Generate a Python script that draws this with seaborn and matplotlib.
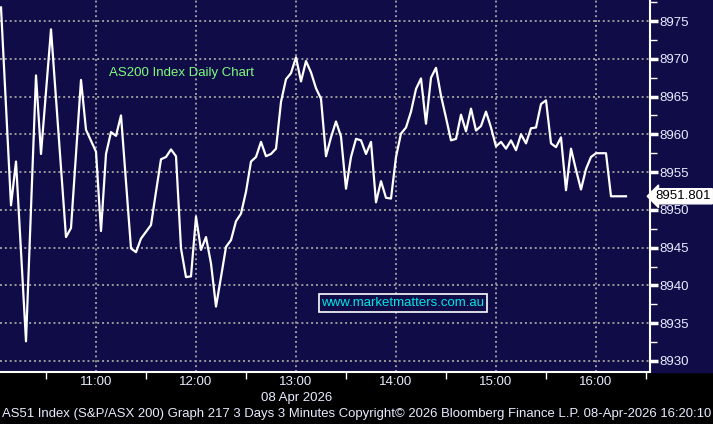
import matplotlib
matplotlib.use('Agg')
import matplotlib.pyplot as plt
import matplotlib.dates as mdates
from matplotlib.patches import Rectangle
import pandas as pd
import seaborn as sns

plt.rcParams['font.family'] = ['Liberation Sans', 'DejaVu Sans']

# intraday AS51, 3 minute bars (vertices)
times = ['10:03', '10:09', '10:12', '10:18', '10:24', '10:27', '10:33', '10:42', '10:45',
         '10:51', '10:54', '11:00', '11:03', '11:06', '11:09', '11:12', '11:15', '11:21',
         '11:24', '11:27', '11:33', '11:36', '11:39', '11:42', '11:45', '11:48', '11:51',
         '11:54', '11:57', '12:00', '12:03', '12:06', '12:09', '12:12', '12:15', '12:18',
         '12:21', '12:24', '12:27', '12:30', '12:33', '12:36', '12:39', '12:42', '12:45',
         '12:48', '12:51', '12:54', '12:57', '13:00', '13:03', '13:06', '13:09', '13:12',
         '13:15', '13:18', '13:21', '13:24', '13:27', '13:30', '13:33', '13:36', '13:39',
         '13:42', '13:45', '13:48', '13:51', '13:54', '13:57', '14:00', '14:03', '14:06',
         '14:09', '14:12', '14:15', '14:18', '14:21', '14:24', '14:27', '14:30', '14:33',
         '14:36', '14:39', '14:42', '14:45', '14:48', '14:51', '14:54', '14:57', '15:00',
         '15:03', '15:06', '15:09', '15:12', '15:15', '15:18', '15:21', '15:24', '15:27',
         '15:30', '15:33', '15:36', '15:39', '15:42', '15:45', '15:48', '15:51', '15:54',
         '15:57', '16:00', '16:03', '16:06', '16:09', '16:12', '16:15', '16:18']
prices = [8976.8, 8950.6, 8956.4, 8932.6, 8967.8, 8957.4, 8973.9, 8946.4, 8947.6,
          8967.2, 8960.6, 8957.7, 8947.2, 8957.4, 8960.3, 8959.8, 8962.5, 8944.9,
          8944.4, 8946.2, 8948.0, 8952.4, 8956.7, 8957.0, 8958.0, 8957.1, 8944.9,
          8941.1, 8941.2, 8949.1, 8944.7, 8946.4, 8942.9, 8937.2, 8941.1, 8945.1,
          8946.0, 8948.5, 8949.5, 8952.4, 8956.4, 8957.0, 8959.0, 8957.1, 8957.4,
          8958.1, 8964.3, 8967.3, 8968.1, 8970.2, 8967.0, 8969.7, 8968.2, 8966.1,
          8964.7, 8957.1, 8959.6, 8961.7, 8959.7, 8952.8, 8957.0, 8959.4, 8959.2,
          8957.4, 8959.0, 8951.0, 8953.8, 8951.6, 8951.5, 8957.0, 8960.1, 8960.9,
          8963.0, 8966.0, 8967.4, 8961.4, 8967.5, 8968.8, 8965.1, 8962.2, 8959.2,
          8959.4, 8962.6, 8960.4, 8963.4, 8960.5, 8961.1, 8963.0, 8960.9, 8958.4,
          8959.0, 8958.1, 8959.2, 8957.9, 8960.0, 8958.8, 8960.8, 8960.9, 8964.0,
          8964.5, 8958.8, 8958.3, 8959.6, 8952.6, 8958.1, 8955.3, 8952.7, 8955.4,
          8957.0, 8957.5, 8957.5, 8957.5, 8951.8, 8951.8, 8951.8, 8951.8]
y_ticks = [8930, 8935, 8940, 8945, 8950, 8955, 8960, 8965, 8970, 8975]
last_price = 8951.801

df = pd.DataFrame({'time': pd.to_datetime(['2026-04-08 ' + t for t in times]),
                   'price': prices})

navy = '#100c48'
W, H = 713, 424
fig = plt.figure(figsize=(W / 100, H / 100), dpi=100, facecolor='black')
# navy strip behind the price scale
fig.patches.append(Rectangle((650 / W, 1 - 372 / H), 63 / W, 372 / H,
                             transform=fig.transFigure, color=navy, zorder=-10))
ax = fig.add_axes([0, 1 - 372 / H, 650 / W, 372 / H])
ax.set_facecolor(navy)

sns.lineplot(data=df, x='time', y='price', ax=ax, color='white', lw=1.6)

ax.set_xlim(pd.Timestamp('2026-04-08 10:02:24'), pd.Timestamp('2026-04-08 16:32:24'))
ax.set_ylim(8928.54, 8977.78)

ax.xaxis.set_major_locator(mdates.HourLocator(byhour=range(11, 17)))
ax.xaxis.set_minor_locator(mdates.MinuteLocator(byminute=[30]))
ax.xaxis.set_major_formatter(mdates.DateFormatter('%H:%M'))
ax.set_yticks(y_ticks)
ax.set_yticks([v + 2.5 for v in y_ticks[:-1]] + [8977.5], minor=True)
ax.yaxis.tick_right()

ax.grid(True, which='major', color='#9a9a9a', ls=(0, (1, 1.5)), lw=1.4)
ax.tick_params(axis='x', which='major', length=0, pad=3, labelsize=9.5, labelcolor='#e8ecff')
ax.tick_params(axis='x', which='minor', length=5, width=1, color='white', direction='out')
ax.tick_params(axis='y', which='major', length=6, width=2.5, color='white', pad=1,
               labelsize=9.5, labelcolor='#e8ecff')
ax.tick_params(axis='y', which='minor', length=5, width=1, color='white')
for s in ['left', 'top']:
    ax.spines[s].set_visible(False)
for s in ['right', 'bottom']:
    ax.spines[s].set_color('white')
    ax.spines[s].set_linewidth(1.5)
ax.set_xlabel('')
ax.set_ylabel('')

# last price tag
ax.text(1.008, last_price, '%.3f' % last_price, transform=ax.get_yaxis_transform(),
        ha='left', va='center', fontsize=9.5, color='black', clip_on=False, zorder=5,
        bbox=dict(boxstyle='larrow,pad=0.12', fc='white', ec='white'))

ax.text(109 / 650, 1 - 73 / 372, 'AS200 Index Daily Chart', transform=ax.transAxes,
        ha='left', va='center', fontsize=9.5, color='#7dfc7d')
ax.text(403 / 650, 1 - 303 / 372, 'www.marketmatters.com.au', transform=ax.transAxes,
        ha='center', va='center', fontsize=9.5, color='#00e6e6',
        bbox=dict(boxstyle='square,pad=0.2', fc=navy, ec='white', lw=1.2))

fig.text(297 / W, 1 - 398 / H, '08 Apr 2026', ha='center', va='center',
         fontsize=9.5, color='#e8ecff')
footer = fig.text(2 / W, 1 - 414 / H,
                  'AS51 Index (S&P/ASX 200) Graph 217 3 Days 3 Minutes Copyright\u00a9 2026 '
                  'Bloomberg Finance L.P. 08-Apr-2026 16:20:10',
                  ha='left', va='center', fontsize=10, color='#e8ecff')

# shrink the footer until it fits the width
fig.canvas.draw()
wpx = footer.get_window_extent().width
if wpx > 708:
    footer.set_fontsize(10 * 708 / wpx)

fig.savefig('out.png', dpi=100, facecolor='black')
